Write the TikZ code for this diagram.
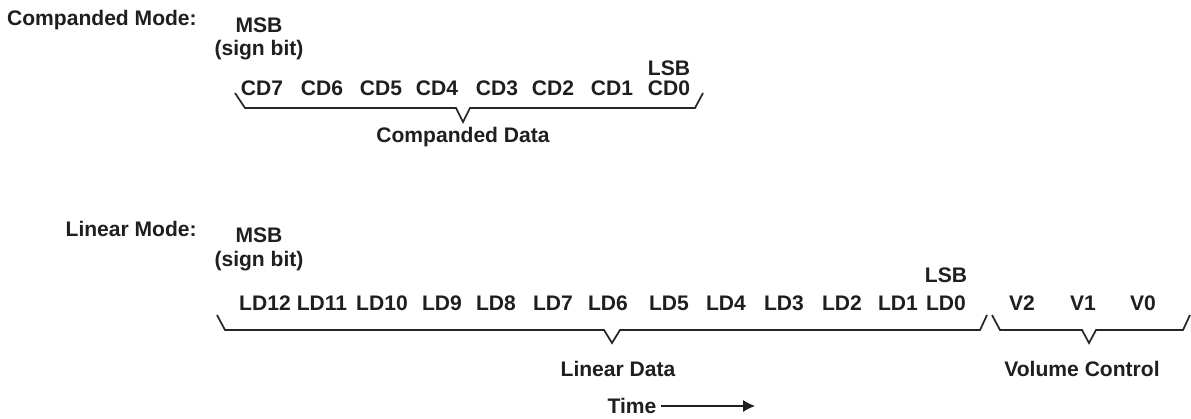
\documentclass[tikz,border=0pt]{standalone}
\usepackage{fontspec}
\setmainfont{Liberation Sans}
\newcommand{\txtcol}{black!88}
\newcommand{\bracecol}{black!85}
\usepackage{tikz}
\usetikzlibrary{arrows.meta}

\begin{document}
\begin{tikzpicture}[x=0.75pt, y=-0.75pt,
    every node/.style={inner sep=0pt, text=\txtcol, font=\bfseries\fontsize{15.8}{19}\selectfont},
    bracket/.style={draw=\bracecol, line width=1.3pt, line join=miter},
    timearrow/.style={draw=\txtcol, line width=0.8pt, -{Latex[length=9pt, width=9pt]}}]

    \useasboundingbox (0, 0) rectangle (1191, 418);

    % companded mode
    \node[anchor=east] (cmode) at (197, 20) {Companded Mode:};
    \node (cmsb) at (259, 25) {MSB};
    \node (csign) at (259, 50) {(sign bit)};
    \node (clsb) at (669, 68) {LSB};

    \node (cd7) at (262, 88) {CD7};
    \node (cd6) at (322, 88) {CD6};
    \node (cd5) at (381, 88) {CD5};
    \node (cd4) at (437, 88) {CD4};
    \node (cd3) at (497, 88) {CD3};
    \node (cd2) at (553, 88) {CD2};
    \node (cd1) at (612, 88) {CD1};
    \node (cd0) at (669, 88) {CD0};

    \draw[bracket] (235, 93) -- (245, 108) -- (456, 108) -- (463, 122) -- (470, 108) -- (695, 108) -- (703, 93);
    \node (cdata) at (463, 137) {Companded Data};

    % linear mode
    \node[anchor=east] (lmode) at (197, 229) {Linear Mode:};
    \node (lmsb) at (259, 235) {MSB};
    \node (lsign) at (259, 261) {(sign bit)};
    \node (llsb) at (946, 275) {LSB};

    \node (ld12) at (265, 303) {LD12};
    \node (ld11) at (322, 303) {LD11};
    \node (ld10) at (382, 303) {LD10};
    \node (ld9) at (442, 303) {LD9};
    \node (ld8) at (496, 303) {LD8};
    \node (ld7) at (553, 303) {LD7};
    \node (ld6) at (608, 303) {LD6};
    \node (ld5) at (669, 303) {LD5};
    \node (ld4) at (726, 303) {LD4};
    \node (ld3) at (784, 303) {LD3};
    \node (ld2) at (842, 303) {LD2};
    \node (ld1) at (898, 303) {LD1};
    \node (ld0) at (946, 303) {LD0};

    \node (v2) at (1022, 303) {V2};
    \node (v1) at (1083, 303) {V1};
    \node (v0) at (1143, 303) {V0};

    \draw[bracket] (217, 315) -- (225, 330) -- (604, 330) -- (612, 343) -- (620, 330) -- (980, 330) -- (987, 315);
    \draw[bracket] (992, 315) -- (1000, 330) -- (1082, 330) -- (1089, 343) -- (1096, 330) -- (1183, 330) -- (1190, 315);

    \node (ldata) at (618, 369) {Linear Data};
    \node (vctrl) at (1082, 369) {Volume Control};

    % time axis
    \node (time) at (632, 406) {Time};
    \coordinate (tend) at (755, 406);
    \draw[timearrow, shorten <=3.5pt] (time.east) -- (tend);

  \end{tikzpicture}
\end{document}
